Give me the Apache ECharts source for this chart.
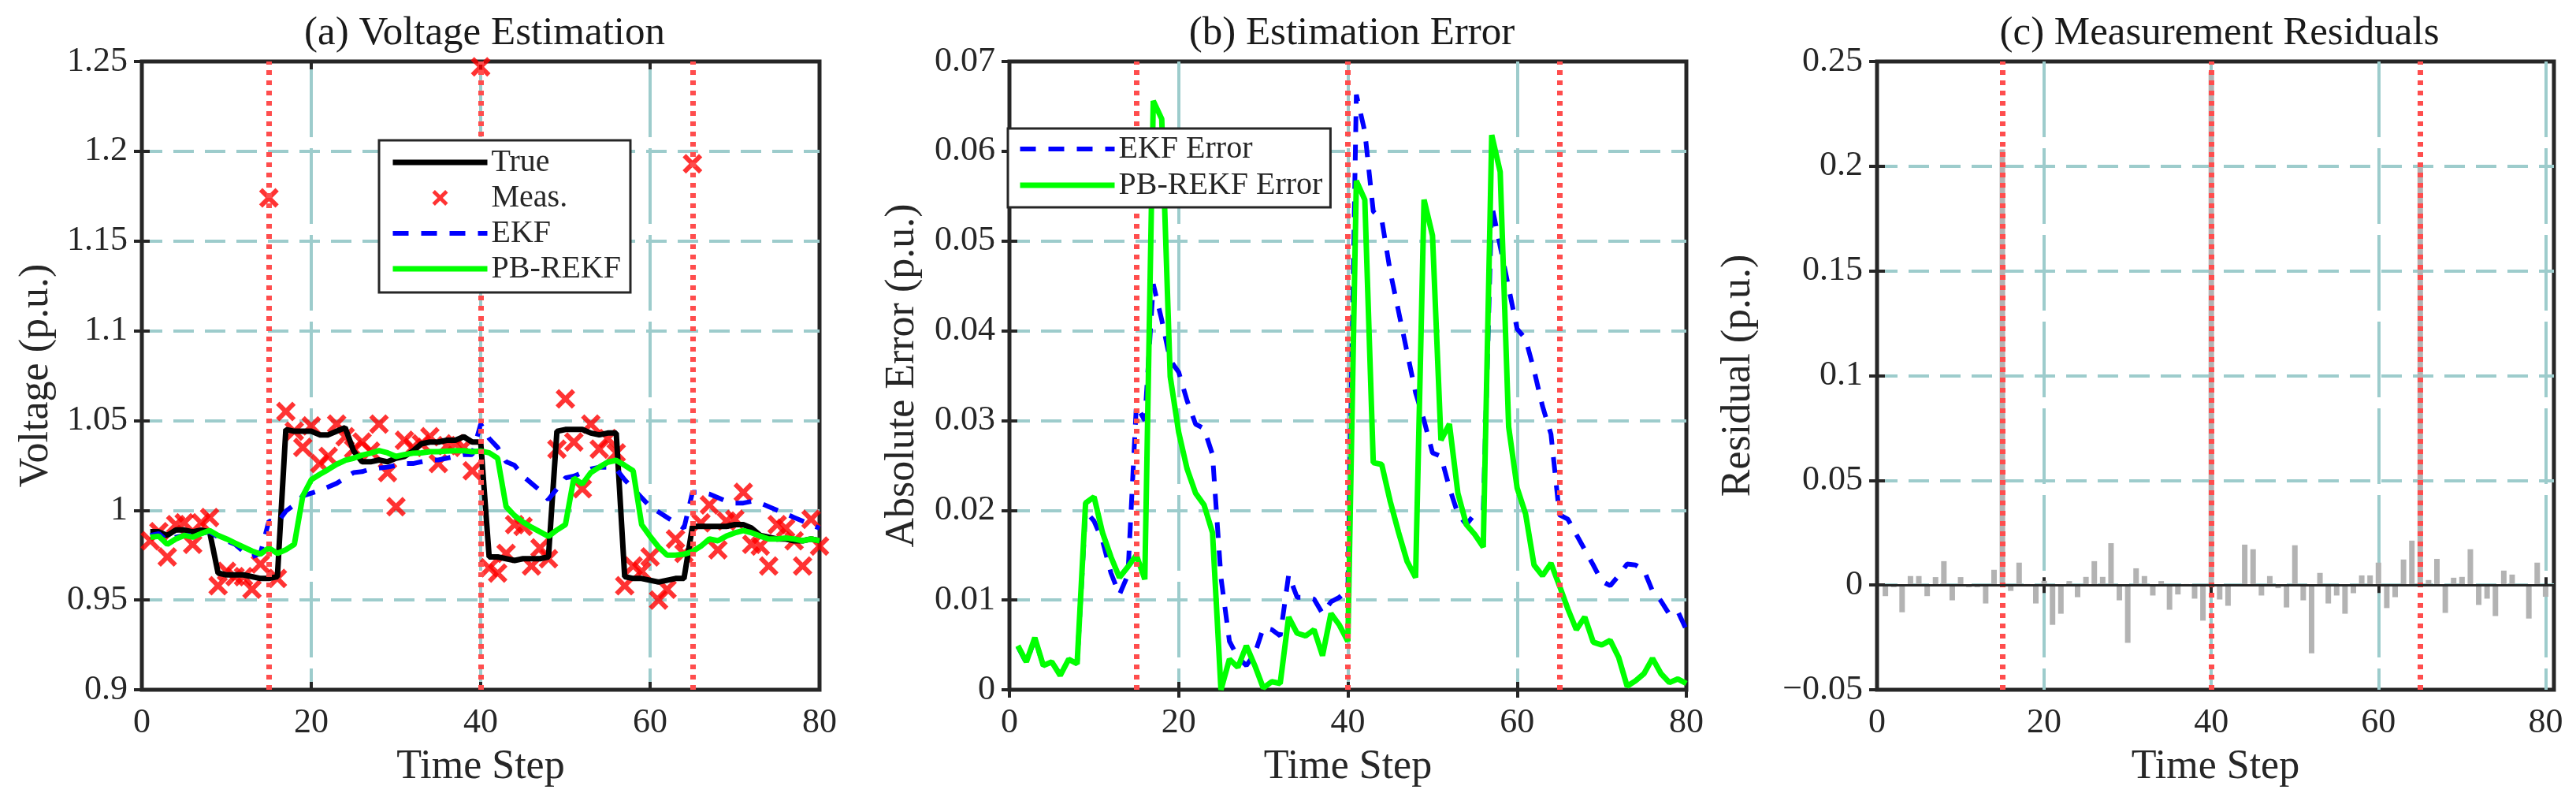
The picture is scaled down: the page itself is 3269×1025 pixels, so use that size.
<!DOCTYPE html>
<html>
<head>
<meta charset="utf-8">
<script src="https://cdn.jsdelivr.net/npm/echarts@6/dist/echarts.min.js"></script>
<style>
  html, body { margin: 0; padding: 0; background: #fff; }
  #chart { width: 3269px; height: 1025px; }
</style>
</head>
<body>
<div id="chart"></div>
<script>
// time steps 1..80
var steps = [1,2,3,4,5,6,7,8,9,10,11,12,13,14,15,16,17,18,19,20,21,22,23,24,25,26,27,28,29,30,
  31,32,33,34,35,36,37,38,39,40,41,42,43,44,45,46,47,48,49,50,51,52,53,54,55,56,57,58,59,60,
  61,62,63,64,65,66,67,68,69,70,71,72,73,74,75,76,77,78,79,80];

// outlier time steps (red dotted lines)
var eventSteps = [15, 40, 65];

// (a) voltage
var trueVolt = [0.988,0.988,0.986,0.989,0.989,0.988,0.989,0.988,0.965,0.964,0.964,0.964,0.963,0.962,0.962,0.963,
  1.045,1.044,1.044,1.044,1.042,1.042,1.044,1.046,1.033,1.027,1.027,1.028,1.027,1.029,1.030,1.033,1.037,1.038,1.038,1.039,
  1.039,1.041,1.038,1.038,0.974,0.974,0.973,0.972,0.973,0.973,0.973,0.974,1.044,1.045,1.045,1.045,1.043,1.042,1.043,1.043,
  0.963,0.962,0.962,0.961,0.960,0.961,0.962,0.962,0.991,0.991,0.991,0.991,0.991,0.992,0.992,0.990,0.986,0.985,0.984,0.984,
  0.983,0.983,0.984,0.983];
var measVolt = [0.983,0.988,0.974,0.992,0.993,0.981,0.993,0.996,0.958,0.966,0.963,0.963,0.956,0.970,1.174,0.962,
  1.055,1.044,1.035,1.047,1.026,1.030,1.048,1.041,1.034,1.038,1.033,1.048,1.021,1.002,1.039,1.035,1.037,1.041,1.026,1.036,
  1.037,1.035,1.022,1.247,0.968,0.965,0.976,0.992,0.991,0.969,0.979,0.973,1.034,1.062,1.038,1.012,1.048,1.034,1.040,1.032,
  0.958,0.969,0.966,0.974,0.950,0.956,0.984,0.976,1.193,0.993,1.003,0.978,0.994,0.995,1.010,0.981,0.980,0.969,0.992,0.990,
  0.983,0.969,0.995,0.980];
var ekfVolt = [0.986,0.987,0.983,0.985,0.986,0.986,0.987,0.988,0.985,0.983,0.981,0.977,0.974,0.976,0.994,0.993,
  0.9995,1.003,1.008,1.0095,1.011,1.013,1.015,1.018,1.021,1.0215,1.023,1.0235,1.024,1.025,1.026,1.026,1.027,1.028,1.028,1.029,
  1.030,1.031,1.031,1.048,1.040,1.035,1.027,1.025,1.019,1.015,1.011,1.006,1.012,1.018,1.019,1.021,1.023,1.024,1.024,1.023,
  1.017,1.012,1.007,1.002,0.999,0.996,0.993,0.990,1.010,1.010,1.009,1.007,1.005,1.004,1.004,1.005,1.004,1.002,1.000,0.998,
  0.996,0.994,0.992,0.990];
var pbVolt = [0.985,0.9855,0.981,0.984,0.986,0.985,0.987,0.9887,0.986,0.984,0.9817,0.9795,0.9773,0.9756,0.979,0.976,
  0.978,0.981,1.008,1.017,1.020,1.0227,1.0256,1.0278,1.029,1.0307,1.0318,1.0332,1.032,1.030,1.031,1.0318,1.032,1.0326,1.0326,1.033,
  1.0332,1.0332,1.0326,1.033,1.032,1.029,1.002,0.997,0.9934,0.9905,0.988,0.9854,0.989,0.992,1.018,1.0146,1.021,1.024,1.0268,1.0278,
  1.025,1.022,0.992,0.9854,0.9795,0.975,0.975,0.9755,0.977,0.980,0.984,0.983,0.9856,0.9874,0.9887,0.9874,0.9856,0.984,0.984,0.9845,
  0.984,0.983,0.984,0.983];

// (b) absolute error
var ekfErr = [0.0048,0.0030,0.0057,0.0027,0.0031,0.0017,0.0034,0.0029,0.0199,0.0188,0.0166,0.0130,0.0106,0.0128,0.0317,0.0300,
  0.0452,0.0412,0.0367,0.0354,0.0322,0.0296,0.0291,0.0262,0.0125,0.0054,0.0036,0.0027,0.0040,0.0069,0.0067,0.0060,0.0128,0.0103,0.0103,0.0101,
  0.0085,0.0098,0.0103,0.0112,0.0663,0.0622,0.0533,0.0524,0.0466,0.0421,0.0376,0.0331,0.0300,0.0264,0.0260,0.0225,0.0196,0.0184,0.0196,0.0200,
  0.0540,0.0494,0.0448,0.0402,0.0391,0.0356,0.0316,0.0285,0.0195,0.0190,0.0173,0.0156,0.0139,0.0121,0.0116,0.0127,0.0140,0.0139,0.0133,0.0110,
  0.0099,0.0084,0.0087,0.0067];
var pbErr = [0.0049,0.0031,0.0058,0.0027,0.0031,0.0016,0.0034,0.0029,0.0208,0.0215,0.0175,0.0148,0.0125,0.0137,0.0150,0.0123,
  0.0656,0.0636,0.0349,0.0287,0.0246,0.0219,0.0206,0.0175,0.0000,0.0034,0.0025,0.0049,0.0027,0.0002,0.0009,0.0007,0.0081,0.0063,0.0060,0.0067,
  0.0038,0.0085,0.0072,0.0054,0.0567,0.0546,0.0253,0.0251,0.0210,0.0175,0.0143,0.0125,0.0546,0.0506,0.0278,0.0296,0.0219,0.0184,0.0173,0.0159,
  0.0618,0.0577,0.0293,0.0225,0.0196,0.0139,0.0127,0.0141,0.0116,0.0090,0.0067,0.0081,0.0053,0.0050,0.0055,0.0036,0.0004,0.0010,0.0018,0.0035,
  0.0018,0.0008,0.0012,0.0007];

// (c) measurement residuals
var residual = [-0.0053,-0.0010,-0.0130,0.0043,0.0043,-0.0053,0.0038,0.0114,-0.0073,0.0038,-0.0010,-0.0010,-0.0088,0.0073,0.2080,-0.0028,
  0.0107,0.0005,-0.0088,0.0020,-0.0190,-0.0137,0.0019,-0.0058,0.0039,0.0114,0.0039,0.0200,-0.0073,-0.0276,0.0080,0.0043,-0.0050,0.0019,-0.0118,-0.0045,
  0.0005,-0.0065,-0.0170,0.2450,-0.0069,-0.0099,0.0003,0.0193,0.0171,-0.0050,0.0043,-0.0015,-0.0107,0.0190,-0.0073,-0.0326,0.0058,-0.0088,-0.0050,-0.0137,
  -0.0039,0.0046,0.0046,0.0107,-0.0110,-0.0058,0.0122,0.0212,0.2010,0.0024,0.0125,-0.0133,0.0035,0.0039,0.0171,-0.0095,-0.0065,-0.0148,0.0069,0.0050,
  0.0005,-0.0160,0.0107,-0.0056];

var FONT = 'Liberation Serif';
var AX = '#262626';
var GRIDC = '#9dcccc';
var EVENT_RED = '#ff4d4d';
var CROSS = 'path://M1.7,0 L5,3.3 L8.3,0 L10,1.7 L6.7,5 L10,8.3 L8.3,10 L5,6.7 L1.7,10 L0,8.3 L3.3,5 L0,1.7 Z';

// plot boxes [left, width]
var boxes = [[180, 860], [1281, 859], [2382, 859]];
var TOP = 78, HEIGHT = 797;

function pairs(xs, ys) {
  return xs.map(function (x, i) { return [x, ys[i]]; });
}

function tick() {
  return { show: true, inside: true, length: 10, lineStyle: { color: AX, width: 4 } };
}

// vertical grid lines have long dashes, horizontal ones short
function split(dash) {
  return { show: true, showMinLine: false, showMaxLine: false,
    lineStyle: { color: GRIDC, width: 4, type: dash } };
}

function eventLines(extra) {
  var data = eventSteps.map(function (s) { return { xAxis: s }; });
  if (extra) data.push(extra);
  return {
    silent: true,
    symbol: ['none', 'none'],
    label: { show: false },
    lineStyle: { color: EVENT_RED, width: 7, type: [6, 7] },
    data: data
  };
}

var xAxes = [], yAxes = [];
var yCfg = [
  { min: 0.9, max: 1.25, interval: 0.05, name: 'Voltage (p.u.)', gap: 108 },
  { min: 0, max: 0.07, interval: 0.01, name: 'Absolute Error (p.u.)', gap: 110 },
  { min: -0.05, max: 0.25, interval: 0.05, name: 'Residual (p.u.)', gap: 150 }
];
var xMax = [80, 80, 81];

for (var g = 0; g < 3; g++) {
  xAxes.push({
    type: 'value', gridIndex: g, position: 'bottom', min: 0, max: xMax[g], interval: 20,
    name: 'Time Step', nameLocation: 'middle', nameGap: 72,
    nameTextStyle: { fontFamily: FONT, fontSize: 52, color: AX },
    axisLine: { show: false }, axisTick: tick(),
    axisLabel: { margin: 20, fontFamily: FONT, fontSize: 44, color: AX, showMaxLabel: g < 2 },
    splitLine: split([96, 14])
  });
  xAxes.push({
    type: 'value', gridIndex: g, position: 'top', min: 0, max: xMax[g], interval: 20,
    axisLine: { show: false }, axisTick: tick(), axisLabel: { show: false }, splitLine: { show: false }
  });
  yAxes.push({
    type: 'value', gridIndex: g, position: 'left', min: yCfg[g].min, max: yCfg[g].max, interval: yCfg[g].interval,
    name: yCfg[g].name, nameLocation: 'middle', nameGap: yCfg[g].gap,
    nameTextStyle: { fontFamily: FONT, fontSize: 52, color: AX },
    axisLine: { show: false }, axisTick: tick(),
    axisLabel: {
      margin: 18, fontFamily: FONT, fontSize: 44, color: AX,
      formatter: function (v) { return String(+v.toFixed(3)).replace('-', '\u2212'); }
    },
    splitLine: split([26, 14])
  });
  yAxes.push({
    type: 'value', gridIndex: g, position: 'right', min: yCfg[g].min, max: yCfg[g].max, interval: yCfg[g].interval,
    axisLine: { show: false }, axisTick: tick(), axisLabel: { show: false }, splitLine: { show: false }
  });
}

var titles = ['(a) Voltage Estimation', '(b) Estimation Error', '(c) Measurement Residuals'];

var legendText = { fontFamily: FONT, fontSize: 40, color: AX };
// hide the circle echarts puts in the middle of line legend icons
var noDot = { opacity: 0 };

var chart = echarts.init(document.getElementById('chart'));
chart.setOption({
  backgroundColor: '#fff',
  animation: false,
  title: titles.map(function (t, i) {
    return {
      text: t, left: boxes[i][0] + boxes[i][1] / 2, textAlign: 'center', top: 12,
      textStyle: { fontFamily: FONT, fontSize: 51, fontWeight: 'normal', color: '#1a1a1a' }
    };
  }),
  grid: boxes.map(function (b) {
    return { left: b[0], top: TOP, width: b[1], height: HEIGHT, show: true,
      backgroundColor: 'transparent', borderColor: AX, borderWidth: 5 };
  }),
  legend: [
    {
      orient: 'vertical', left: 481, top: 178, z: 10,
      padding: [8, 12, 10, 14], itemWidth: 120, itemHeight: 20, itemGap: 5,
      borderColor: AX, borderWidth: 3, backgroundColor: '#fff',
      textStyle: legendText, lineStyle: { width: 'inherit' }, selectedMode: false,
      data: [
        { name: 'True', itemStyle: noDot },
        { name: 'Meas.' },
        { name: 'EKF', itemStyle: noDot },
        { name: 'PB-REKF', itemStyle: noDot }
      ]
    },
    {
      orient: 'vertical', left: 1279, top: 163, z: 10,
      padding: [6, 10, 8, 12], itemWidth: 120, itemHeight: 20, itemGap: 6,
      borderColor: AX, borderWidth: 3, backgroundColor: '#fff',
      textStyle: legendText, lineStyle: { width: 'inherit' }, selectedMode: false,
      data: [
        { name: 'EKF Error', itemStyle: noDot },
        { name: 'PB-REKF Error', itemStyle: noDot }
      ]
    }
  ],
  xAxis: xAxes,
  yAxis: yAxes,
  series: [
    {
      name: 'True', type: 'line', xAxisIndex: 0, yAxisIndex: 0,
      data: pairs(steps, trueVolt), symbol: 'none',
      lineStyle: { color: '#000', width: 7 }, itemStyle: { color: '#000' }
    },
    {
      name: 'Meas.', type: 'scatter', xAxisIndex: 0, yAxisIndex: 0,
      data: pairs(steps, measVolt), symbol: CROSS, symbolSize: 25,
      itemStyle: { color: '#ff0000' }
    },
    {
      name: 'EKF', type: 'line', xAxisIndex: 0, yAxisIndex: 0,
      data: pairs(steps, ekfVolt), symbol: 'none',
      lineStyle: { color: '#0000ff', width: 6, type: [20, 16] }, itemStyle: { color: '#0000ff' }
    },
    {
      name: 'PB-REKF', type: 'line', xAxisIndex: 0, yAxisIndex: 0,
      data: pairs(steps, pbVolt), symbol: 'none',
      lineStyle: { color: '#00ff00', width: 7 }, itemStyle: { color: '#00ff00' },
      markLine: eventLines()
    },
    {
      name: 'EKF Error', type: 'line', xAxisIndex: 2, yAxisIndex: 2,
      data: pairs(steps, ekfErr), symbol: 'none',
      lineStyle: { color: '#0000ff', width: 6, type: [20, 16] }, itemStyle: { color: '#0000ff' }
    },
    {
      name: 'PB-REKF Error', type: 'line', xAxisIndex: 2, yAxisIndex: 2,
      data: pairs(steps, pbErr), symbol: 'none',
      lineStyle: { color: '#00ff00', width: 7 }, itemStyle: { color: '#00ff00' },
      markLine: eventLines()
    },
    {
      name: 'Residual', type: 'bar', xAxisIndex: 4, yAxisIndex: 4,
      data: pairs(steps, residual), barWidth: 7,
      itemStyle: { color: '#b3b3b3' },
      markLine: eventLines({ yAxis: 0, lineStyle: { color: AX, width: 3, type: 'solid' } })
    }
  ]
});
</script>
</body>
</html>
